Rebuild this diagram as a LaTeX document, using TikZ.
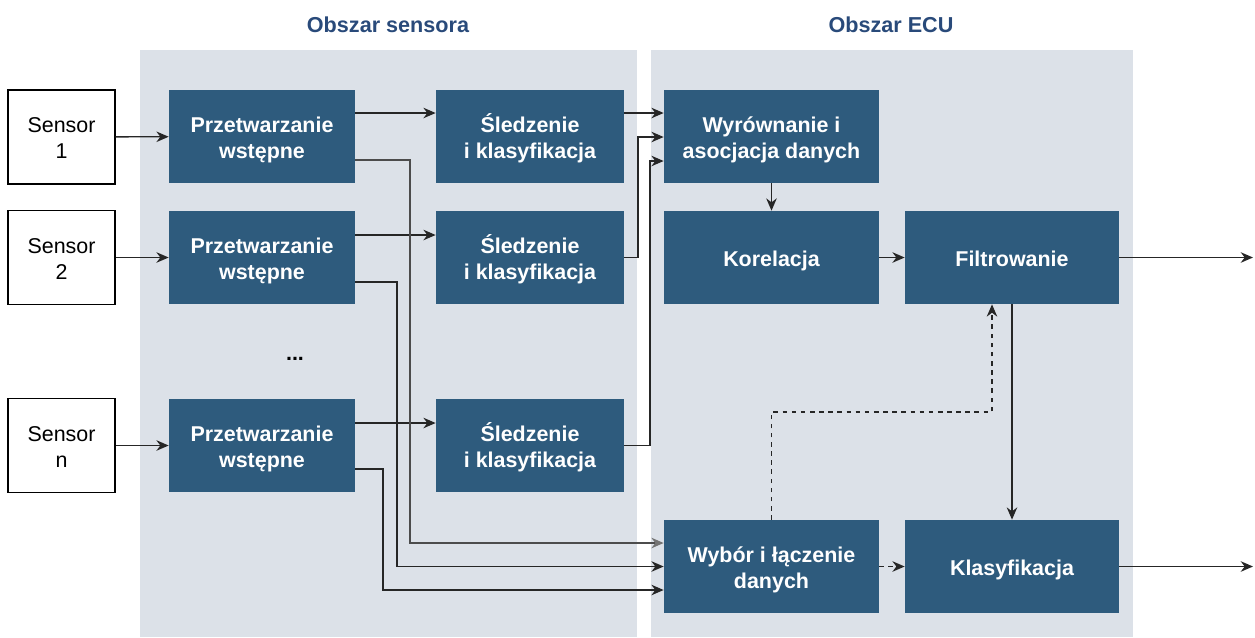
\documentclass[tikz,border=0pt]{standalone}
\usepackage{fontspec}
\setmainfont{Liberation Sans}
\usetikzlibrary{arrows.meta}
\definecolor{areabg}{RGB}{220,225,232}
\definecolor{blkfill}{RGB}{46,91,125}
\definecolor{titleblue}{RGB}{41,74,122}
% fixed height of the first line and depth of the last line of each label
\newcommand{\tstrut}{\rule{0pt}{13.5pt}}
\newcommand{\bstrut}{\rule[-3.7pt]{0pt}{3.7pt}}
\tikzset{
  area/.style={fill=areabg, draw=none},
  blk/.style={fill=blkfill, draw=none, text=white, font=\fontsize{12.2}{14.8}\selectfont\bfseries,
    align=center, inner sep=0pt, minimum height=1.86cm},
  sensorbox/.style={fill=white, draw=black, line width=0.6pt, font=\fontsize{12.2}{14.8}\selectfont,
    align=center, inner sep=0pt, minimum width=2.14cm, minimum height=1.88cm},
  areatitle/.style={text=titleblue, font=\fontsize{12.3}{14.8}\selectfont\bfseries},
  arr/.style={draw=black!85, line width=0.75pt, -{Stealth[length=7pt,width=6pt]}},
  arrgray/.style={draw=black!70, line width=0.75pt, -{Stealth[length=7pt,width=6pt,color=black!55]}},
  dasharr/.style={arr, dash pattern=on 2.6pt off 2.6pt},
}
\begin{document}
\begin{tikzpicture}[x=0.02cm, y=-0.02cm]
  \useasboundingbox (0,0) rectangle (1255,637);

  % shaded areas
  \fill[area] (140,50) rectangle (637,637);
  \fill[area] (651,50) rectangle (1133,637);
  \node[areatitle] (t1) at (388,25) {Obszar sensora};
  \node[areatitle] (t2) at (891,25) {Obszar ECU};

  % sensors
  \node[sensorbox] (sn1) at (61.5,137) {\tstrut Sensor\\1\bstrut};
  \node[sensorbox] (sn2) at (61.5,257.5) {\tstrut Sensor\\2\bstrut};
  \node[sensorbox] (snN) at (61.5,445.5) {\tstrut Sensor\\n\bstrut};

  % preprocessing
  \node[blk, minimum width=3.72cm] (p1) at (262,136.5) {\tstrut Przetwarzanie\\wstępne\bstrut};
  \node[blk, minimum width=3.72cm] (p2) at (262,257.5) {\tstrut Przetwarzanie\\wstępne\bstrut};
  \node[blk, minimum width=3.72cm] (pN) at (262,445.5) {\tstrut Przetwarzanie\\wstępne\bstrut};
  \node[font=\fontsize{12.2}{14.8}\selectfont\bfseries] (dots) at (295,359) {...};

  % tracking
  \node[blk, minimum width=3.76cm] (s1) at (530,136.5) {\tstrut Śledzenie\\i klasyfikacja\bstrut};
  \node[blk, minimum width=3.76cm] (s2) at (530,257.5) {\tstrut Śledzenie\\i klasyfikacja\bstrut};
  \node[blk, minimum width=3.76cm] (sN) at (530,445.5) {\tstrut Śledzenie\\i klasyfikacja\bstrut};

  % ECU
  \node[blk, minimum width=4.3cm] (w) at (771.5,136.5) {\tstrut Wyrównanie i\\asocjacja danych\bstrut};
  \node[blk, minimum width=4.3cm] (kor) at (771.5,257.5) {\tstrut Korelacja\bstrut};
  \node[blk, minimum width=4.28cm] (f) at (1012,257.5) {\tstrut Filtrowanie\bstrut};
  \node[blk, minimum width=4.3cm] (wb) at (771.5,566.5) {\tstrut Wybór i łączenie\\danych\bstrut};
  \node[blk, minimum width=4.28cm] (k) at (1012,566.5) {\tstrut Klasyfikacja\bstrut};

  \coordinate (out1) at (1253,257.5);
  \coordinate (out2) at (1253,566.5);

  % sensor to preprocessing
  \draw[arr] (sn1) -- (p1);
  \draw[arr] (sn2) -- (p2);
  \draw[arr] (snN) -- (pN);

  % preprocessing to tracking
  \draw[arr] (p1.east |- 0,113) -- (s1.west |- 0,113);
  \draw[arr] (p2.east |- 0,235) -- (s2.west |- 0,235);
  \draw[arr] (pN.east |- 0,423) -- (sN.west |- 0,423);

  % tracking to alignment
  \draw[arr] (s1.east |- 0,113) -- (w.west |- 0,113);
  \draw[arr] (s2.east) -| (638,137) -- (w.west |- 0,137);
  \draw[arr] (sN.east) -| (650,161) -- (w.west |- 0,161);

  % preprocessing to selection
  \draw[arrgray] (p1.east |- 0,160) -| (410,543) -- (wb.west |- 0,543);
  \draw[arr] (p2.east |- 0,282) -| (397,566.5) -- (wb.west |- 0,566.5);
  \draw[arr] (pN.east |- 0,469) -| (383,590) -- (wb.west |- 0,590);

  % ECU chain
  \draw[arr] (w) -- (kor);
  \draw[arr] (kor) -- (f);
  \draw[arr] (f) -- (out1);
  \draw[arr] (f) -- (k);
  \draw[arr] (k) -- (out2);
  \draw[dasharr] (wb) -- (k);
  \draw[dasharr] (wb.north) |- (992,412) -- (f.south -| 992,0);
\end{tikzpicture}
\end{document}
